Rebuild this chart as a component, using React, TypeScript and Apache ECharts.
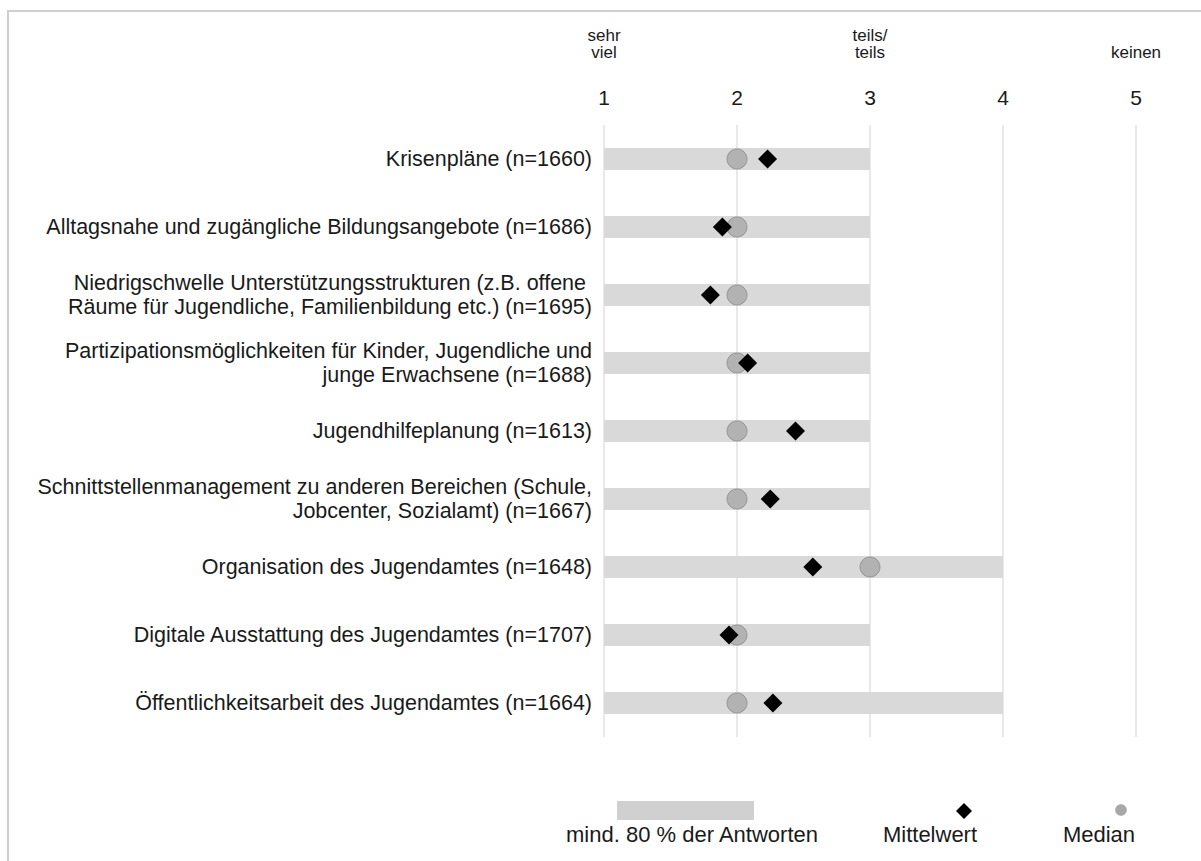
import React, { useEffect, useRef } from "react";
import * as echarts from "echarts";

const categories = [
  "Krisenpläne (n=1660)",
  "Alltagsnahe und zugängliche Bildungsangebote (n=1686)",
  "Niedrigschwelle Unterstützungsstrukturen (z.B. offene \nRäume für Jugendliche, Familienbildung etc.) (n=1695)",
  "Partizipationsmöglichkeiten für Kinder, Jugendliche und\njunge Erwachsene (n=1688)",
  "Jugendhilfeplanung (n=1613)",
  "Schnittstellenmanagement zu anderen Bereichen (Schule,\nJobcenter, Sozialamt) (n=1667)",
  "Organisation des Jugendamtes (n=1648)",
  "Digitale Ausstattung des Jugendamtes (n=1707)",
  "Öffentlichkeitsarbeit des Jugendamtes (n=1664)",
];
const rangeStart = [1, 1, 1, 1, 1, 1, 1, 1, 1];
const rangeEnd = [3, 3, 3, 3, 3, 3, 4, 3, 4];
const medians = [2, 2, 2, 2, 2, 2, 3, 2, 2];
const means = [2.23, 1.89, 1.8, 2.08, 2.44, 2.25, 2.57, 1.94, 2.27];
const tickValues = [1, 2, 3, 4, 5];
const scaleHeaders: Record<number, string> = { 1: "sehr\nviel", 3: "teils/\nteils", 5: "keinen" };
const legendLabels = ["mind. 80 % der Antworten", "Mittelwert", "Median"];

const FONT = "Liberation Sans, Arial, sans-serif";
const TXT = "#1a1a1a";

export default function App() {
  const ref = useRef<HTMLDivElement>(null);
  useEffect(() => {
    document.body.style.margin = "0";
    if (!ref.current) return;
    const chart = echarts.init(ref.current, null, { renderer: "svg" });
    const option: any = {
      animation: false,
      backgroundColor: "#ffffff",
      textStyle: { fontFamily: FONT },
      grid: { left: 604, right: 65, top: 125, bottom: 124 },
      xAxis: [
        {
          type: "value",
          position: "top",
          min: 1,
          max: 5,
          interval: 1,
          axisLine: { show: false },
          axisTick: { show: false },
          splitLine: { show: true, lineStyle: { color: "#e2e2e2", width: 1.5 } },
          axisLabel: {
            margin: 17,
            fontSize: 21,
            color: TXT,
            fontFamily: FONT,
            formatter: (v: number) => (tickValues.includes(v) ? String(v) : ""),
          },
        },
        {
          type: "value",
          position: "top",
          min: 1,
          max: 5,
          interval: 1,
          offset: 60,
          axisLine: { show: false },
          axisTick: { show: false },
          splitLine: { show: false },
          axisLabel: {
            margin: 4,
            fontSize: 17,
            lineHeight: 17,
            color: TXT,
            fontFamily: FONT,
            verticalAlign: "bottom",
            formatter: (v: number) => scaleHeaders[v] || "",
          },
        },
      ],
      yAxis: {
        type: "category",
        inverse: true,
        data: categories,
        axisLine: { show: false },
        axisTick: { show: false },
        splitLine: { show: false },
        axisLabel: {
          margin: 12,
          fontSize: 21.5,
          lineHeight: 24,
          color: TXT,
          fontFamily: FONT,
          align: "right",
        },
      },
      series: [
        {
          type: "custom",
          name: "range",
          xAxisIndex: 0,
          encode: { x: [0, 1], y: 2 },
          data: categories.map((_, i) => [rangeStart[i], rangeEnd[i], i]),
          renderItem: (params: any, api: any) => {
            const s = api.coord([api.value(0), api.value(2)]);
            const e = api.coord([api.value(1), api.value(2)]);
            const h = 22;
            return {
              type: "rect",
              shape: { x: s[0], y: s[1] - h / 2, width: e[0] - s[0], height: h },
              style: { fill: "#d9d9d9" },
            };
          },
          z: 2,
        },
        {
          type: "scatter",
          name: "Median",
          xAxisIndex: 0,
          symbol: "circle",
          symbolSize: 20,
          data: categories.map((_, i) => [medians[i], i]),
          itemStyle: { color: "#b2b2b2", borderColor: "#959595", borderWidth: 1, opacity: 1 },
          z: 3,
        },
        {
          type: "scatter",
          name: "Mittelwert",
          xAxisIndex: 0,
          symbol: "diamond",
          symbolSize: 19,
          data: categories.map((_, i) => [means[i], i]),
          itemStyle: { color: "#000000", opacity: 1 },
          z: 4,
        },
      ],
      graphic: [
        {
          type: "rect",
          shape: { x: 8, y: 11, width: 1300, height: 900 },
          style: { fill: "none", stroke: "#cfcfcf", lineWidth: 2 },
          z: 0,
        },
        {
          type: "rect",
          shape: { x: 617, y: 801, width: 137, height: 19 },
          style: { fill: "#d0d0d0" },
        },
        {
          type: "text",
          x: 692,
          y: 834,
          style: {
            text: legendLabels[0],
            fontSize: 22,
            fontFamily: FONT,
            fill: TXT,
            align: "center",
            verticalAlign: "middle",
          },
        },
        {
          type: "polygon",
          shape: { points: [[964, 803], [972, 811], [964, 819], [956, 811]] },
          style: { fill: "#000000" },
        },
        {
          type: "text",
          x: 930,
          y: 834,
          style: {
            text: legendLabels[1],
            fontSize: 22,
            fontFamily: FONT,
            fill: TXT,
            align: "center",
            verticalAlign: "middle",
          },
        },
        {
          type: "circle",
          shape: { cx: 1121, cy: 810, r: 5.5 },
          style: { fill: "#a8a8a8", stroke: "#999999", lineWidth: 0.5 },
        },
        {
          type: "text",
          x: 1099,
          y: 834,
          style: {
            text: legendLabels[2],
            fontSize: 22,
            fontFamily: FONT,
            fill: TXT,
            align: "center",
            verticalAlign: "middle",
          },
        },
      ],
    };
    chart.setOption(option);
    return () => chart.dispose();
  }, []);
  return <div ref={ref} style={{ width: 1201, height: 861 }} />;
}
